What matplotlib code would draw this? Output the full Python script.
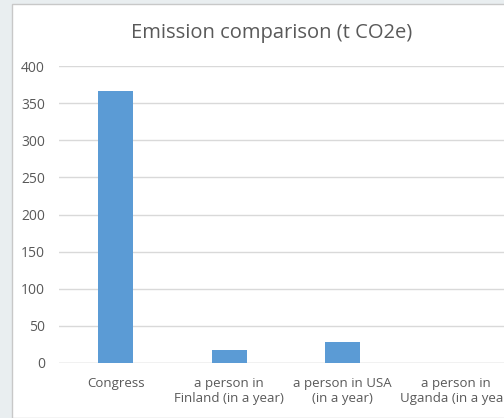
import matplotlib
matplotlib.use('Agg')
import matplotlib.pyplot as plt
from matplotlib.patches import Rectangle

#-------------------------------------------------------------------------------
#DATA

categories = ['Congress', 'a person in\nFinland (in a year)',
              'a person in USA\n(in a year)', 'a person in\nUganda (in a year)']
emissions = [366.5, 17.5, 28.3, 0.1]
yticks = [0, 50, 100, 150, 200, 250, 300, 350, 400]

#-------------------------------------------------------------------------------
#PLOT

plt.rcParams['font.family'] = ['Open Sans', 'DejaVu Sans']
W, H = 504, 418
fig = plt.figure(figsize=(W/100, H/100), dpi=100)
fig.patch.set_facecolor('#e9eef0')

#white chart panel, partly off the page
fig.patches.append(Rectangle((12/W, 0), 1, 1 - 4/H, transform=fig.transFigure,
                             facecolor='white', edgecolor='#c8c8c8', lw=1.0,
                             zorder=-1))

ax = fig.add_axes([59/W, 1 - 363/H, 454/W, 297/H])
ax.set_facecolor('none')
x = range(len(categories))
ax.bar(x, emissions, width=0.31, color='#5b9bd5', zorder=2)
ax.set_xlim(-0.5, len(categories) - 0.5)
ax.set_ylim(0, 400)
ax.set_yticks(yticks)
ax.set_xticks(list(x))
ax.set_xticklabels(categories, fontsize=9.5, color='#595959', linespacing=1.25)
ax.tick_params(axis='y', labelsize=10, labelcolor='#595959', length=0, pad=10)
ax.tick_params(axis='x', length=0, pad=10)
ax.grid(axis='y', color='#d9d9d9', lw=1, zorder=0)
for s in ax.spines.values():
    s.set_visible(False)
ax.axhline(0, color='#d9d9d9', lw=1, zorder=1)

fig.text(272/W, 1 - 33/H, 'Emission comparison (t CO2e)', ha='center', va='center',
         fontsize=14.5, color='#595959')

fig.savefig('out.png', dpi=100, facecolor=fig.get_facecolor())
